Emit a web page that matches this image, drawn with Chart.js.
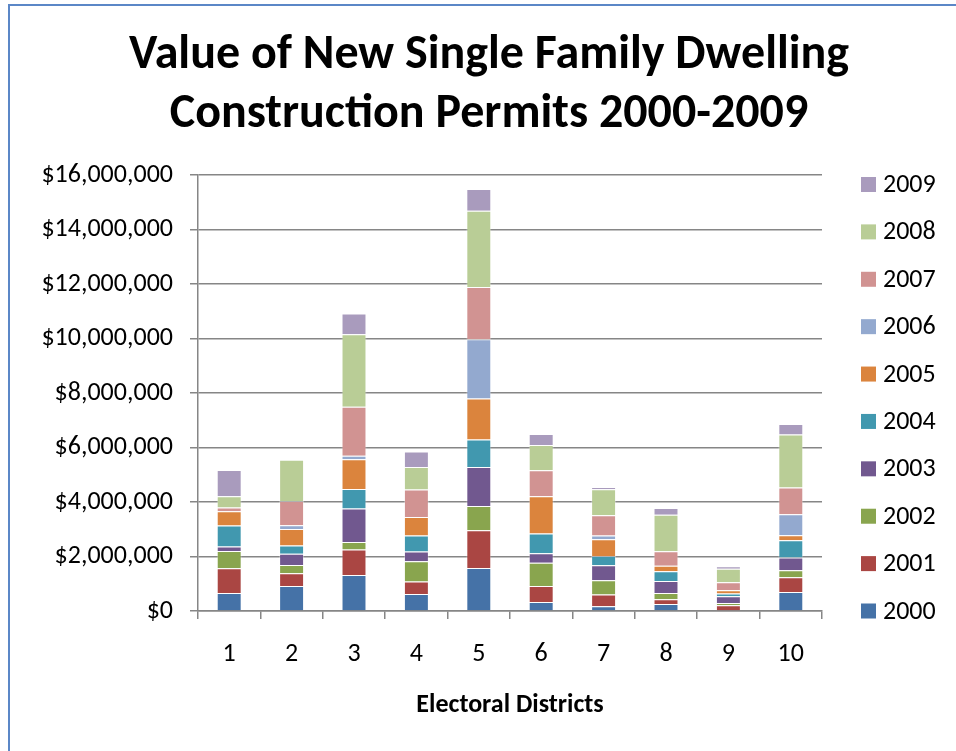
<!DOCTYPE html>
<html>
<head>
<meta charset="utf-8">
<title>Single Family Dwelling Permits</title>
<script src="https://cdn.jsdelivr.net/npm/chart.js@4.4.0/dist/chart.umd.min.js"></script>
<style>
  html, body { margin: 0; padding: 0; background: #fff; }
  #wrap { position: relative; width: 956px; height: 751px; }
</style>
</head>
<body>
<div id="wrap"><canvas id="permitChart"></canvas></div>
<script>
const districts = ['1', '2', '3', '4', '5', '6', '7', '8', '9', '10'];
const years = ['2000', '2001', '2002', '2003', '2004', '2005', '2006', '2007', '2008', '2009'];

// permit value in dollars, one entry per electoral district
const v2000 = [660000, 920000, 1320000, 620000, 1580000, 330000, 170000, 260000, 25000, 700000];
const v2001 = [905000, 465000, 940000, 465000, 1380000, 590000, 440000, 170000, 185000, 540000];
const v2002 = [635000, 305000, 270000, 745000, 895000, 855000, 515000, 230000, 85000, 255000];
const v2003 = [170000, 415000, 1235000, 355000, 1430000, 345000, 550000, 440000, 245000, 465000];
const v2004 = [770000, 295000, 710000, 585000, 1005000, 720000, 345000, 355000, 100000, 635000];
const v2005 = [525000, 610000, 1090000, 675000, 1505000, 1370000, 610000, 210000, 120000, 185000];
const v2006 = [0, 135000, 135000, 0, 2175000, 0, 145000, 0, 0, 770000];
const v2007 = [135000, 895000, 1800000, 1015000, 1920000, 955000, 735000, 525000, 295000, 980000];
const v2008 = [415000, 1515000, 2655000, 820000, 2800000, 930000, 955000, 1345000, 500000, 1945000];
const v2009 = [955000, 0, 760000, 575000, 795000, 405000, 85000, 245000, 85000, 390000];

const yTicks = [0, 2000000, 4000000, 6000000, 8000000, 10000000, 12000000, 14000000, 16000000];

const seriesValues = [v2000, v2001, v2002, v2003, v2004, v2005, v2006, v2007, v2008, v2009];
const seriesColors = ['#4572A7', '#AA4643', '#89A54E', '#71588F', '#4198AF',
                      '#DB843D', '#93A9CF', '#D19392', '#B9CD96', '#A99BBD'];

const FONT = 'Carlito, Calibri, Lato, sans-serif';

// thin blue frame along the top and left edge
const framePlugin = {
  id: 'frame',
  beforeDraw(chart) {
    const ctx = chart.ctx;
    ctx.save();
    ctx.strokeStyle = '#5B87C7';
    ctx.lineWidth = 2;
    ctx.beginPath();
    ctx.moveTo(9, chart.height);
    ctx.lineTo(9, 5);
    ctx.lineTo(chart.width, 5);
    ctx.stroke();
    ctx.restore();
  }
};

// legend column as a layout box on the right, newest year on top
const sideLegend = {
  id: 'sideLegend',
  beforeInit(chart) {
    const box = {
      position: 'right',
      weight: 1000,
      fullSize: false,
      options: {},
      left: 0, top: 0, right: 0, bottom: 0, width: 0, height: 0,
      isHorizontal() { return false; },
      getPadding() { return { left: 0, right: 0, top: 0, bottom: 0 }; },
      update(maxWidth, maxHeight) {
        this.width = 134;
        this.height = maxHeight;
      },
      draw() {
        const ctx = chart.ctx;
        const area = chart.chartArea;
        const sets = chart.data.datasets.slice().reverse();
        const first = area.top + 9.5;
        const step = (area.bottom - first) / (sets.length - 1);
        const x0 = this.left + 39;
        ctx.save();
        ctx.font = '26px ' + FONT;
        ctx.textBaseline = 'middle';
        ctx.textAlign = 'left';
        sets.forEach((ds, i) => {
          const cy = first + i * step;
          ctx.fillStyle = ds.backgroundColor;
          ctx.fillRect(x0, cy - 7.5, 15, 15);
          ctx.fillStyle = '#000';
          ctx.fillText(ds.label, x0 + 22, cy + 1);
        });
        ctx.restore();
      }
    };
    Chart.layouts.addBox(chart, box);
  }
};

new Chart(document.getElementById('permitChart'), {
  type: 'bar',
  data: {
    labels: districts,
    datasets: years.map((y, i) => ({
      label: y,
      data: seriesValues[i],
      backgroundColor: seriesColors[i],
      borderColor: 'rgba(255,255,255,0.35)',
      borderWidth: 1,
      barPercentage: 0.4,
      categoryPercentage: 1
    }))
  },
  options: {
    responsive: true,
    maintainAspectRatio: false,
    animation: false,
    layout: { padding: { left: 22, right: 0, top: 0, bottom: 0 } },
    plugins: {
      legend: { display: false },
      tooltip: { enabled: false },
      title: {
        display: true,
        text: ['Value of New Single Family Dwelling', 'Construction Permits 2000-2009'],
        color: '#000',
        font: { family: FONT, size: 48, weight: 'bold', lineHeight: '59px' },
        padding: { top: 26, bottom: 31 }
      }
    },
    scales: {
      x: {
        stacked: true,
        afterFit(scale) { scale.height = 140; },
        grid: { display: true, drawOnChartArea: false, offset: true, tickLength: 8, color: '#868686', lineWidth: 1.5 },
        border: { color: '#868686', width: 1.5 },
        ticks: { color: '#000', font: { family: FONT, size: 26 }, padding: 20 },
        title: {
          display: true,
          text: 'Electoral Districts',
          color: '#000',
          font: { family: FONT, size: 26, weight: 'bold' },
          padding: { top: 0, bottom: 30 }
        }
      },
      y: {
        stacked: true,
        min: 0,
        max: 16000000,
        afterFit(scale) { scale.width = 176; },
        afterBuildTicks(scale) { scale.ticks = yTicks.map(v => ({ value: v })); },
        grid: { color: '#868686', lineWidth: 1.5, tickLength: 8 },
        border: { color: '#868686', width: 1.5 },
        ticks: {
          color: '#000',
          font: { family: FONT, size: 26 },
          padding: 17,
          callback: v => '$' + Number(v).toLocaleString('en-US')
        }
      }
    }
  },
  plugins: [framePlugin, sideLegend]
});
</script>
</body>
</html>
